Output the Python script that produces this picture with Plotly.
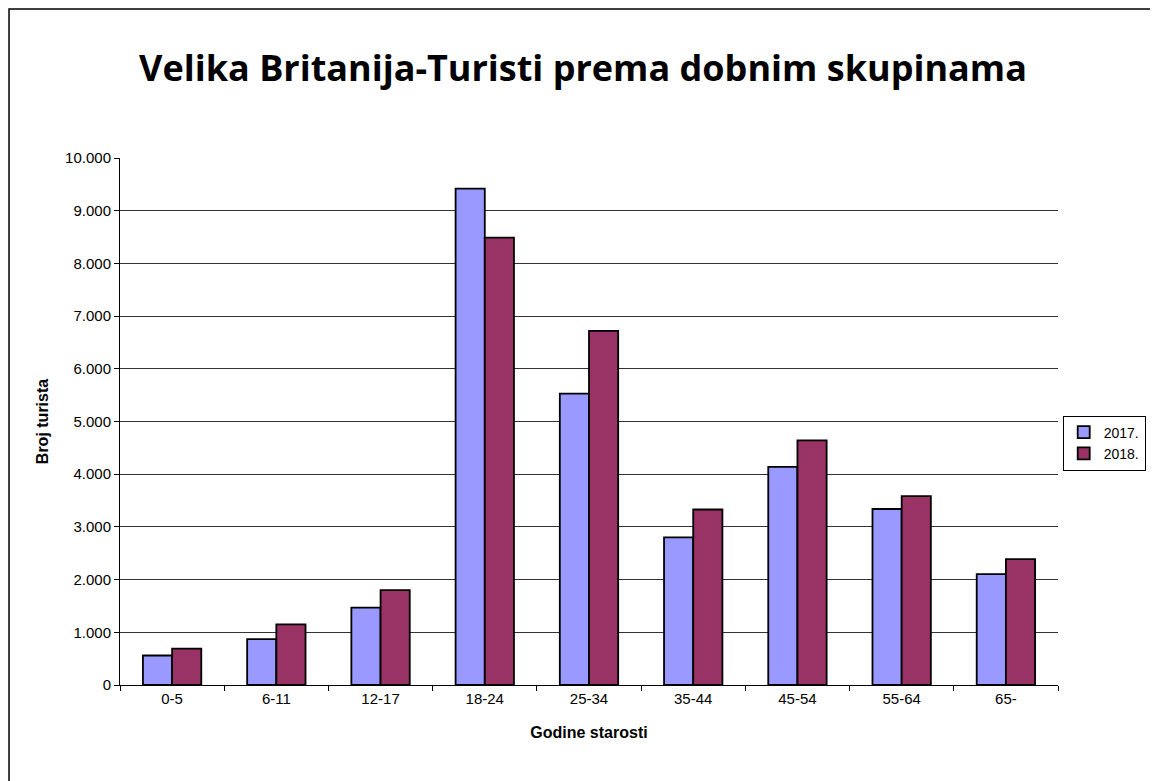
import plotly.graph_objects as go

dobne_skupine = ["0-5", "6-11", "12-17", "18-24", "25-34", "35-44", "45-54", "55-64", "65-"]
turisti_2017 = [560, 870, 1470, 9420, 5530, 2800, 4140, 3340, 2105]
turisti_2018 = [690, 1150, 1800, 8490, 6720, 3330, 4640, 3585, 2390]

fig = go.Figure()
fig.add_trace(go.Bar(x=dobne_skupine, y=turisti_2017, name="2017.",
                     marker=dict(color="#9999FF", line=dict(color="black", width=1.8))))
fig.add_trace(go.Bar(x=dobne_skupine, y=turisti_2018, name="2018.",
                     marker=dict(color="#993366", line=dict(color="black", width=1.8))))

# okvir oko cijele slike
fig.add_shape(type="rect", xref="paper", yref="paper",
              x0=-0.1183, x1=1.1023, y0=-0.3, y1=1.2827,
              line=dict(color="black", width=1.5), layer="below")

fig.update_layout(
    width=1150, height=773,
    margin=dict(l=112, r=100, t=150, b=96, autoexpand=False),
    paper_bgcolor="white", plot_bgcolor="white",
    separators=",.",
    barmode="group", bargap=0.44, bargroupgap=0,
    font=dict(family="Liberation Sans, Arial", size=15, color="black"),
    title=dict(text="<b>Velika Britanija-Turisti prema dobnim skupinama</b>",
               x=0.5, xanchor="center", y=0.9224, yanchor="middle",
               font=dict(family="Open Sans", size=36, color="black")),
    legend=dict(x=1.0935, y=0.459, xanchor="right", yanchor="middle",
                bordercolor="black", borderwidth=1, bgcolor="white",
                font=dict(size=14), itemwidth=30, tracegroupgap=0),
    xaxis=dict(title=dict(text="<b>Godine starosti</b>", standoff=20, font=dict(size=16)),
               showline=True, linecolor="black", linewidth=1,
               ticks="outside", tickson="boundaries", ticklen=5, tickcolor="black",
               showgrid=False),
    yaxis=dict(title=dict(text="<b>Broj turista</b>", standoff=12, font=dict(size=16)),
               range=[0, 10000], dtick=1000, tickformat=",d",
               showline=True, linecolor="black", linewidth=1,
               ticks="outside", ticklen=5, tickcolor="black",
               showgrid=True, gridcolor="#333333", gridwidth=1, zeroline=False),
)

fig.write_html("out.html")
